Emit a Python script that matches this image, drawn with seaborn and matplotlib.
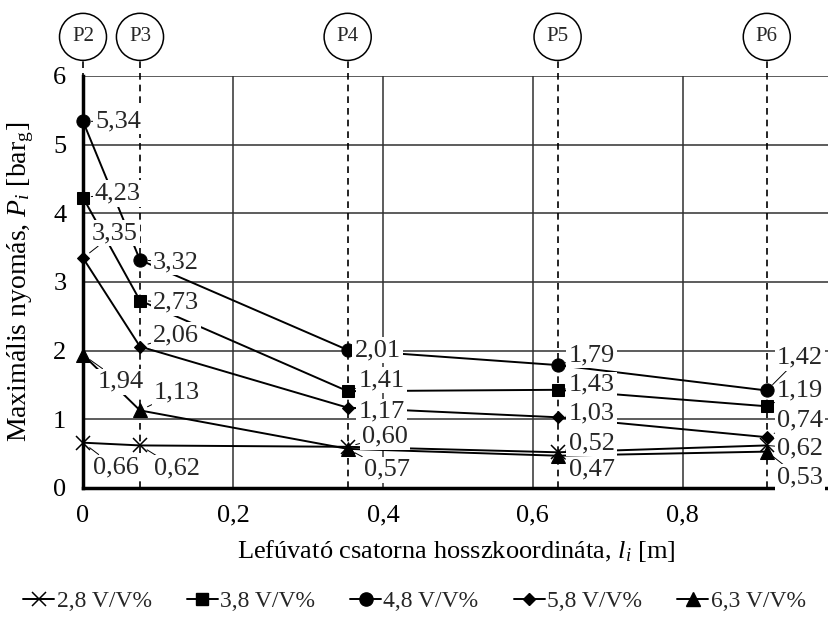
import matplotlib
matplotlib.use("Agg")
import numpy as np
import pandas as pd
import matplotlib.pyplot as plt
import matplotlib.transforms as mtransforms
from matplotlib.lines import Line2D
import seaborn as sns

# measurement points along the vent channel
probes = ["P2", "P3", "P4", "P5", "P6"]
positions = [0.0, 0.076, 0.353, 0.633, 0.912]

# maximum pressure [bar_g] for each fuel concentration
series = ["2,8 V/V%", "3,8 V/V%", "4,8 V/V%", "5,8 V/V%", "6,3 V/V%"]
p_28 = [0.66, 0.62, 0.60, 0.52, 0.62]
p_38 = [4.23, 2.73, 1.41, 1.43, 1.19]
p_48 = [5.34, 3.32, 2.01, 1.79, 1.42]
p_58 = [3.35, 2.06, 1.17, 1.03, 0.74]
p_63 = [1.94, 1.13, 0.57, 0.47, 0.53]

x_ticks = [0, 0.2, 0.4, 0.6, 0.8]
x_ticklabels = ["0", "0,2", "0,4", "0,6", "0,8"]
y_ticks = [0, 1, 2, 3, 4, 5, 6]

values = [p_28, p_38, p_48, p_58, p_63]
df = pd.DataFrame(
    [(s, x, v) for s, vals in zip(series, values) for x, v in zip(positions, vals)],
    columns=["series", "l", "P"],
)

sns.set_theme(style="white")
plt.rcParams["font.family"] = ["Liberation Serif", "DejaVu Serif"]
plt.rcParams["mathtext.fontset"] = "custom"
plt.rcParams["mathtext.rm"] = "Liberation Serif"
plt.rcParams["mathtext.it"] = "Liberation Serif:italic"

marker_style = {
    "2,8 V/V%": dict(marker="x", markersize=10, markeredgewidth=1.1),
    "3,8 V/V%": dict(marker="s", markersize=8.5),
    "4,8 V/V%": dict(marker="o", markersize=9.5),
    "5,8 V/V%": dict(marker="D", markersize=6.5),
    "6,3 V/V%": dict(marker="^", markersize=9.5),
}

# label offsets in pixels from each point, per series and probe
label_offsets = {
    "2,8 V/V%": [(33, -25), (37, -23), (37, 10), (34, 9), (33, -3)],
    "3,8 V/V%": [(35, 4), (36, -2), (34, 11), (34, 5), (33, 16)],
    "4,8 V/V%": [(35, 0), (36, -2), (30, 0), (34, 10), (33, 33)],
    "5,8 V/V%": [(32, 25), (36, 11), (34, -4), (34, 4), (33, 17)],
    "6,3 V/V%": [(38, -27), (37, 18), (39, -21), (34, -14), (33, -26)],
}

W, H = 829, 620
fig = plt.figure(figsize=(W / 100, H / 100), dpi=100)
ax = fig.add_axes([83 / W, 1 - 488 / H, 746 / W, 412 / H])

ax.set_xlim(0, 0.995)
ax.set_ylim(0, 6)

# grid
for y in y_ticks[1:]:
    ax.axhline(y, color="#303030", lw=1.1, zorder=1)
for x in x_ticks[1:]:
    ax.axvline(x, color="#303030", lw=1.1, zorder=1)

# probe positions: dashed verticals with circled names above the plot
trans = mtransforms.blended_transform_factory(ax.transData, ax.transAxes)
for name, x in zip(probes, positions):
    ax.plot([x, x], [0, 1.04], transform=trans, color="black", lw=1.2,
            ls=(0, (4, 3)), clip_on=False, zorder=2)
    ax.text(x, 1.095, name, transform=trans, ha="center", va="center",
            fontsize=15, zorder=6,
            bbox=dict(boxstyle="circle,pad=0.6", fc="white", ec="black", lw=1.1))

for s in series:
    sub = df[df["series"] == s]
    sns.lineplot(data=sub, x="l", y="P", ax=ax, color="black", lw=1.4,
                 legend=False, zorder=3, clip_on=False,
                 markeredgecolor="black", markerfacecolor="black",
                 **marker_style[s])

# value labels with short leader lines
for s, vals in zip(series, values):
    for x, v, off in zip(positions, vals, label_offsets[s]):
        ax.annotate(
            f"{v:.2f}".replace(".", ","), xy=(x, v), xytext=off,
            textcoords="offset pixels", ha="center", va="center",
            fontsize=19, zorder=5, annotation_clip=False,
            bbox=dict(boxstyle="square,pad=0.08", fc="white", ec="none"),
            arrowprops=dict(arrowstyle="-", color="black", lw=0.7,
                            shrinkA=0, shrinkB=6),
        )

ax.set_xticks(x_ticks)
ax.set_xticklabels(x_ticklabels)
ax.set_yticks(y_ticks)
ax.set_yticklabels([str(t) for t in y_ticks])
ax.tick_params(axis="both", length=0, labelsize=19, pad=12, colors="black")

for side in ["top", "right"]:
    ax.spines[side].set_visible(False)
for side in ["left", "bottom"]:
    ax.spines[side].set_color("black")
    ax.spines[side].set_linewidth(2.5)
    ax.spines[side].set_zorder(4)

ax.set_xlabel(r"Lefúvató csatorna hosszkoordináta, $l_i$ [m]", fontsize=19,
              color="black", labelpad=8)
ax.set_ylabel(r"Maximális nyomás, $P_i$ [bar$_\mathrm{g}$]", fontsize=20,
              color="black", labelpad=12)

handles = [
    Line2D([], [], color="black", lw=1.4, markeredgecolor="black",
           markerfacecolor="black", **marker_style[s])
    for s in series
]
fig.legend(handles, series, loc="center", bbox_to_anchor=(0.5, 1 - 601 / H),
           ncol=5, frameon=False, fontsize=17, handlelength=1.3,
           handletextpad=0.1, columnspacing=1.5)

fig.savefig("out.png", dpi=100, facecolor="white")
